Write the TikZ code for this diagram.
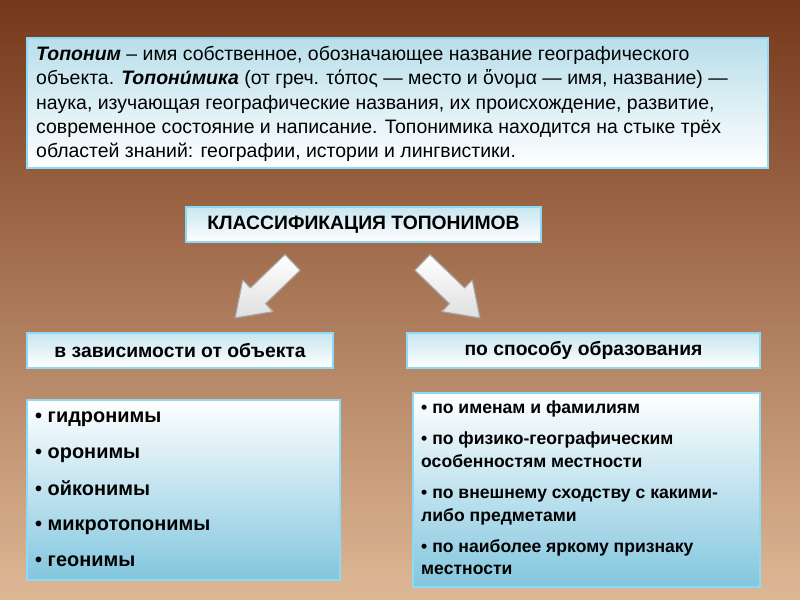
\documentclass[tikz,border=0pt]{standalone}
\usepackage{fontspec}
\setmainfont{Liberation Sans}
\definecolor{bgtop}{RGB}{118,56,26}
\definecolor{bgbot}{RGB}{222,184,150}
\definecolor{topfill}{RGB}{184,222,234}
\definecolor{hdfill}{RGB}{200,230,240}
\definecolor{lstfill}{RGB}{130,198,222}
\begin{document}
\begin{tikzpicture}[x=0.03cm,y=-0.03cm,
  panel/.style={draw=cyan!45!white,line width=2.2pt,top color=#1,bottom color=white},
  panelup/.style={draw=cyan!45!white,line width=2.2pt,top color=white,bottom color=#1},
  txt/.style={anchor=base west,inner sep=0pt,text=black},
  arr/.style={draw=gray!70,line width=1pt,top color=white,bottom color=gray!25,line join=round}]
\shade[top color=bgtop,bottom color=bgbot] (0,0) rectangle (800,600);
\useasboundingbox (0,0) rectangle (800,600);
% top box
\path[panel=topfill] (27,38) rectangle (768,168);
\node[txt,font=\fontsize{16.6pt}{20.8pt}\selectfont,align=left,anchor=north west] (def) at (36,46)
{\textbf{\textit{Топоним}} – имя собственное, обозначающее название географического\\
объекта. \textbf{\textit{Топони́мика}} (от греч. τόπος — место и ὄνομα — имя, название) —\\
наука, изучающая географические названия, их происхождение, развитие,\\
современное состояние и написание. Топонимика находится на стыке трёх\\
областей знаний: географии, истории и лингвистики.};
% class header
\path[panel=hdfill] (186,207) rectangle (541,242);
\node[font=\fontsize{16.5pt}{18pt}\selectfont\bfseries] (cls) at (363.5,224.5) {КЛАССИФИКАЦИЯ ТОПОНИМОВ};
% arrows
\path[arr] (235,318) -- (273.3,311.6) -- (265.6,303.7) -- (300.2,270.3) -- (285,254.5) -- (250.4,287.9) -- (242.7,280) -- cycle;
\path[arr] (480,318) -- (441.7,311.6) -- (449.4,303.7) -- (414.8,270.3) -- (430,254.5) -- (464.6,287.9) -- (472.3,280) -- cycle;
% sub headers
\path[panel=hdfill] (27,333) rectangle (333,368);
\node[font=\fontsize{16.5pt}{18pt}\selectfont\bfseries] (obj) at (180,350.5) {в зависимости от объекта};
\path[panel=hdfill] (407,333) rectangle (760,368);
\node[font=\fontsize{16.5pt}{18pt}\selectfont\bfseries] (way) at (583.5,350.5) {по способу образования};
% left list
\path[panelup=lstfill] (27,400) rectangle (340,580);
\begin{scope}[every node/.style={txt,font=\fontsize{17pt}{19pt}\selectfont\bfseries}]
\node (l1) at (35,423) {• гидронимы};
\node (l2) at (35,459) {• оронимы};
\node (l3) at (35,496) {• ойконимы};
\node (l4) at (35,531) {• микротопонимы};
\node (l5) at (35,567) {• геонимы};
\end{scope}
% right list
\path[panelup=lstfill] (413,393) rectangle (760,587);
\begin{scope}[every node/.style={txt,font=\fontsize{15pt}{17pt}\selectfont\bfseries}]
\node (r1) at (421,414) {• по именам и фамилиям};
\node (r2) at (421,445) {• по физико-географическим};
\node (r3) at (421,468) {особенностям местности};
\node (r4) at (421,499) {• по внешнему сходству с какими-};
\node (r5) at (421,522) {либо предметами};
\node (r6) at (421,553) {• по наиболее яркому признаку};
\node (r7) at (421,575) {местности};
\end{scope}
\end{tikzpicture}
\end{document}
